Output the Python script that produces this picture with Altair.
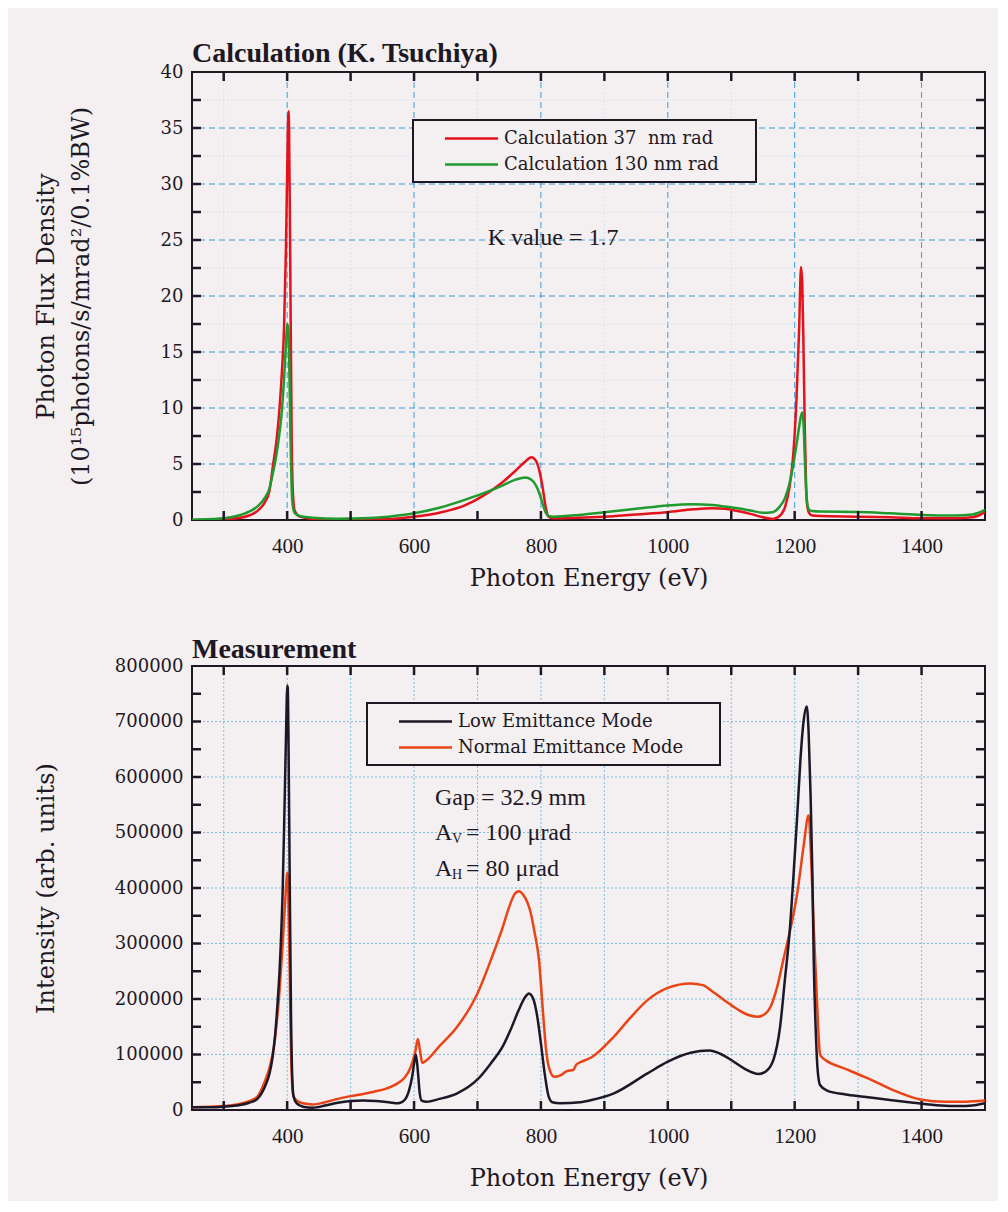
import altair as alt
import pandas as pd

# ---------------- Calculation panel data ----------------
CALC_E = [250, 280, 300, 320, 340, 355, 365, 372, 378, 383, 388, 392, 395, 398, 400, 402, 403, 405, 407, 409,
          412, 420, 440, 480, 520, 560, 600, 640, 680, 710, 740, 760, 775, 785, 792, 798, 803, 808, 812, 820,
          860, 900, 950, 1000, 1040, 1070, 1090, 1110, 1130, 1150, 1165, 1175, 1185, 1192, 1198, 1203, 1207, 1210,
          1212, 1214, 1216, 1218, 1220, 1223, 1228, 1240, 1300, 1350, 1400, 1450, 1480, 1490, 1500]
CALC_37 = [0.0, 0.0, 0.05, 0.15, 0.4, 0.9, 1.6, 2.6, 5.0, 7.0, 10.0, 13.5, 17.0, 24.0, 31.0, 36.5, 35.0, 22.0, 8.0, 2.5,
           0.8, 0.3, 0.1, 0.03, 0.05, 0.1, 0.3, 0.65, 1.3, 2.2, 3.4, 4.4, 5.2, 5.6, 5.3, 4.3, 2.8, 1.0, 0.3, 0.15,
           0.2, 0.3, 0.5, 0.7, 0.95, 1.05, 1.0, 0.8, 0.55, 0.25, 0.1, 0.3, 1.2, 3.0, 6.0, 11.0, 17.0, 22.6,
           21.0, 15.0, 8.0, 3.0, 1.2, 0.6, 0.4, 0.35, 0.3, 0.25, 0.15, 0.15, 0.25, 0.4, 0.7]
CALC_130 = [0.02, 0.08, 0.15, 0.35, 0.75, 1.3, 2.0, 2.8, 4.3, 5.8, 7.8, 10.0, 12.5, 15.5, 17.5, 17.0, 15.0, 8.0, 3.0, 1.2,
            0.6, 0.35, 0.2, 0.12, 0.15, 0.3, 0.6, 1.1, 1.8, 2.4, 3.1, 3.6, 3.8, 3.6, 3.1, 2.3, 1.4, 0.6, 0.35, 0.3,
            0.45, 0.7, 1.0, 1.3, 1.4, 1.35, 1.2, 1.05, 0.85, 0.65, 0.7, 1.1, 2.0, 3.3, 5.0, 6.8, 8.3, 9.3,
            9.6, 8.5, 5.5, 2.8, 1.4, 0.9, 0.8, 0.75, 0.72, 0.6, 0.45, 0.4, 0.5, 0.65, 0.9]
CALC_SERIES = ["Calculation 37\u00a0 nm rad", "Calculation 130 nm rad"]
CALC_COLORS = ["#e3121c", "#1f9a2f"]

# ---------------- Measurement panel data ----------------
LOW_E = [250, 280, 300, 320, 340, 353, 366, 372, 377, 381, 385, 388, 390, 393, 395, 397, 399, 400, 401, 402,
         404, 406, 408, 410, 415, 425, 440, 460, 480, 500, 520, 540, 560, 575, 585, 592, 597, 601, 603, 606,
         609, 612, 620, 640, 668, 700, 721, 740, 752, 765, 775, 781, 788, 794, 800, 806, 812, 818, 830, 862,
         880, 915, 968, 1000, 1036, 1065, 1085, 1100, 1120, 1143, 1155, 1167, 1177, 1185, 1192, 1198, 1204, 1209,
         1214, 1219, 1222, 1225, 1228, 1230, 1233, 1236, 1240, 1251, 1280, 1309, 1350, 1387, 1430, 1460, 1480, 1500]
LOW_I = [5000, 5000, 6000, 8000, 13000, 20000, 45000, 65000, 95000, 135000, 195000, 250000, 300000, 400000, 500000,
         610000, 720000, 765000, 760000, 680000, 420000, 180000, 60000, 25000, 12000, 6000, 4000, 8000, 13000, 16000,
         17000, 16000, 14000, 12000, 18000, 35000, 60000, 90000, 100000, 70000, 30000, 17000, 15000, 20000, 30000,
         55000, 84000, 115000, 144000, 180000, 203000, 210000, 200000, 170000, 120000, 65000, 25000, 14000, 12000, 14000,
         18000, 30000, 66000, 87000, 103000, 107000, 100000, 90000, 75000, 65000, 70000, 92000, 150000, 240000, 320000,
         420000, 530000, 630000, 700000, 727000, 680000, 570000, 420000, 270000, 150000, 75000, 45000, 35000, 28000,
         24000, 18000, 13000, 8000, 7000, 8000, 12000]
NORM_E = [250, 280, 300, 320, 340, 353, 366, 372, 377, 381, 385, 388, 390, 393, 395, 397, 399, 400, 401, 402,
          404, 406, 408, 410, 415, 425, 440, 460, 480, 500, 520, 537, 555, 574, 585, 595, 602, 606, 609, 613,
          618, 640, 668, 700, 721, 740, 750, 758, 765, 772, 784, 790, 797, 803, 808, 813, 821, 830, 841, 851,
          856, 862, 880, 915, 940, 968, 1000, 1036, 1055, 1072, 1090, 1109, 1125, 1141, 1152, 1162, 1172, 1182,
          1194, 1204, 1214, 1222, 1226, 1230, 1235, 1240, 1246, 1251, 1280, 1309, 1340, 1361, 1398, 1437, 1470, 1500]
NORM_I = [5000, 6000, 7000, 10000, 16000, 24000, 55000, 75000, 100000, 130000, 175000, 215000, 250000, 300000, 340000,
          380000, 415000, 427000, 420000, 380000, 250000, 110000, 45000, 25000, 17000, 12000, 10000, 14000, 20000, 25000,
          29000, 33000, 38000, 48000, 58000, 78000, 105000, 128000, 110000, 85000, 88000, 115000, 150000, 210000, 270000,
          330000, 366000, 388000, 394000, 388000, 355000, 320000, 270000, 180000, 110000, 75000, 60000, 62000, 70000,
          72000, 82000, 86000, 95000, 132000, 165000, 198000, 220000, 228000, 225000, 212000, 197000, 182000, 172000,
          168000, 172000, 186000, 220000, 270000, 330000, 390000, 475000, 531000, 450000, 330000, 200000, 100000, 92000,
          88000, 74000, 60000, 44000, 33000, 19000, 15000, 15000, 17000]
MEAS_SERIES = ["Low Emittance Mode", "Normal Emittance Mode"]
MEAS_COLORS = ["#1d1828", "#ea4416"]

# ---------------- ticks / grids / annotations ----------------
X_TICKS = [300, 400, 500, 600, 700, 800, 900, 1000, 1100, 1200, 1300, 1400]
TOP_Y_TICKS = [0, 2.5, 5, 7.5, 10, 12.5, 15, 17.5, 20, 22.5, 25, 27.5, 30, 32.5, 35, 37.5, 40]
BOT_Y_TICKS = [0, 50000, 100000, 150000, 200000, 250000, 300000, 350000, 400000, 450000, 500000,
               550000, 600000, 650000, 700000, 750000, 800000]
TOP_XGRID_MAJOR = [400, 600, 800, 1000, 1200, 1400]
TOP_XGRID_MINOR = [300, 500, 700, 900, 1100, 1300]
TOP_YGRID_MAJOR = [5, 10, 15, 20, 25, 30, 35]
TOP_YGRID_MINOR = [2.5, 7.5, 12.5, 17.5, 22.5, 27.5, 32.5, 37.5]
BOT_XGRID = [300, 400, 500, 600, 700, 800, 900, 1000, 1100, 1200, 1300, 1400]
BOT_YGRID = [100000, 200000, 300000, 400000, 500000, 600000, 700000]

K_TEXT, K_E, K_V = ["K value = 1.7"], [716], [25.2]
GAP_TEXT, GAP_E, GAP_I = ["Gap = 32.9 mm"], [633], [563000]
A_BASE = ["A", "A"]
A_SUB = ["V", "H"]
A_REST = ["= 100 \u03bcrad", "= 80 \u03bcrad"]
A_E = [633, 633]
A_I = [499000, 434000]

X_DOMAIN = [250, 1500]
TOP_Y_DOMAIN = [0, 40]
BOT_Y_DOMAIN = [0, 800000]

FG = "#1d1824"
BG = "#f4eff0"
SERIF = "DejaVu Serif"
TIMES = "Liberation Serif"
W = 793
H_TOP = 448
H_BOT = 444
TICK = 9
PAD = "\u00a0" * 5 + "\u200b"


def x_scale():
    return alt.Scale(domain=X_DOMAIN, nice=False, zero=False)


def x_axis_bottom(title_pad):
    return alt.Axis(values=X_TICKS, format="d", labelExpr="datum.value % 200 === 0 ? datum.label : ''",
                    orient="bottom", ticks=False, domain=False, grid=False,
                    labelFont=TIMES, labelFontSize=21, labelColor=FG, labelPadding=15, labelFlush=False,
                    labelOverlap=False, title="Photon Energy (eV)", titleFont=SERIF, titleFontSize=24,
                    titleFontWeight="normal", titleColor=FG, titlePadding=title_pad)


def y_axis_left(vals, step, title, extent, title_pad):
    expr = "datum.value % " + str(step) + " === 0 ? datum.label : ''"
    return alt.Axis(values=vals, format="d", labelExpr=expr,
                    orient="left", ticks=False, domain=False, grid=False,
                    labelFont=SERIF, labelFontSize=18, labelColor=FG, labelPadding=9, labelFlush=False,
                    labelOverlap=False, minExtent=extent, maxExtent=extent, title=title, titleFont=SERIF,
                    titleFontSize=24, titleFontWeight="normal", titleColor=FG, titlePadding=title_pad,
                    titleLineHeight=35)


def vrules(vals, color, dash):
    return alt.Chart(pd.DataFrame({"g": vals})).mark_rule(color=color, strokeWidth=1, strokeDash=dash).encode(
        x=alt.X("g:Q", scale=x_scale(), axis=None))


def hrules(vals, color, dash, yscale):
    return alt.Chart(pd.DataFrame({"g": vals})).mark_rule(color=color, strokeWidth=1, strokeDash=dash).encode(
        y=alt.Y("g:Q", scale=yscale, axis=None))


def tick_layers(xaxis, yaxis, yscale, ydomain, yvals, height):
    """Inward ticks on all four sides, drawn from the tick lists through the scales."""
    ylen = (ydomain[1] - ydomain[0]) * TICK / height
    xlen = (X_DOMAIN[1] - X_DOMAIN[0]) * TICK / W
    rows = []
    for t in X_TICKS:
        rows.append({"x0": t, "x1": t, "y0": ydomain[0], "y1": ydomain[0] + ylen})
        rows.append({"x0": t, "x1": t, "y0": ydomain[1] - ylen, "y1": ydomain[1]})
    for t in yvals:
        rows.append({"x0": X_DOMAIN[0], "x1": X_DOMAIN[0] + xlen, "y0": t, "y1": t})
        rows.append({"x0": X_DOMAIN[1] - xlen, "x1": X_DOMAIN[1], "y0": t, "y1": t})
    return alt.Chart(pd.DataFrame(rows)).mark_rule(strokeWidth=2.5, color=FG).encode(
        x=alt.X("x0:Q", scale=x_scale(), axis=xaxis), x2="x1:Q",
        y=alt.Y("y0:Q", scale=yscale, axis=yaxis), y2="y1:Q")


def legend(x, y):
    return alt.Legend(orient="none", legendX=x, legendY=y, title=None, strokeColor=FG, fillColor=BG,
                      padding=8, rowPadding=6, symbolType="M-3,0H3", symbolSize=312, symbolStrokeWidth=2.5,
                      symbolOffset=40, labelOffset=22, labelFont=SERIF, labelFontSize=18, labelColor=FG,
                      labelLimit=600, labelExpr="datum.label + '" + PAD + "'")


# ---------------- top panel ----------------
ys_top = alt.Scale(domain=TOP_Y_DOMAIN, nice=False, zero=True)
calc_df = pd.concat([
    pd.DataFrame({"E": CALC_E, "v": CALC_37, "series": CALC_SERIES[0]}),
    pd.DataFrame({"E": CALC_E, "v": CALC_130, "series": CALC_SERIES[1]}),
])
top_ylab = ["Photon Flux Density", "(10\u00b9\u2075photons/s/mrad\u00b2/0.1%BW)"]
top_yaxis = y_axis_left(TOP_Y_TICKS, 5, top_ylab, 40, 59)
top_xaxis = x_axis_bottom(10)

top_grid = alt.layer(
    vrules(TOP_XGRID_MINOR, "#d9e2ea", [2, 2]),
    vrules(TOP_XGRID_MAJOR, "#3d9fd6", [6, 4]),
    hrules(TOP_YGRID_MINOR, "#d9e2ea", [2, 2], ys_top),
    hrules(TOP_YGRID_MAJOR, "#3d9fd6", [6, 4], ys_top),
)
top_lines = alt.Chart(calc_df).mark_line(strokeWidth=2.5, interpolate="monotone", clip=True).encode(
    x=alt.X("E:Q", scale=x_scale(), axis=top_xaxis),
    y=alt.Y("v:Q", scale=ys_top, axis=top_yaxis),
    color=alt.Color("series:N", scale=alt.Scale(domain=CALC_SERIES, range=CALC_COLORS), legend=legend(221, 48)),
)
top_text = alt.Chart(pd.DataFrame({"E": K_E, "v": K_V, "t": K_TEXT})).mark_text(
    align="left", baseline="middle", font=TIMES, fontSize=24, color=FG).encode(
    x=alt.X("E:Q", scale=x_scale(), axis=top_xaxis),
    y=alt.Y("v:Q", scale=ys_top, axis=top_yaxis),
    text="t:N",
)
top = alt.layer(
    top_grid,
    alt.layer(top_lines, top_text,
              tick_layers(top_xaxis, top_yaxis, ys_top, TOP_Y_DOMAIN, TOP_Y_TICKS[1:-1], H_TOP)),
).resolve_scale(x="independent", y="independent").properties(
    width=W, height=H_TOP,
    title=alt.TitleParams("Calculation (K. Tsuchiya)", anchor="start", frame="group", font=TIMES, fontSize=28,
                          fontWeight="bold", color=FG, offset=-5))

# ---------------- bottom panel ----------------
ys_bot = alt.Scale(domain=BOT_Y_DOMAIN, nice=False, zero=True)
meas_df = pd.concat([
    pd.DataFrame({"E": NORM_E, "v": NORM_I, "series": MEAS_SERIES[1]}),
    pd.DataFrame({"E": LOW_E, "v": LOW_I, "series": MEAS_SERIES[0]}),
])
bot_yaxis = y_axis_left(BOT_Y_TICKS, 100000, "Intensity (arb. units)", 86, 48)
bot_xaxis = x_axis_bottom(20)

bot_grid = alt.layer(
    vrules(BOT_XGRID, "#7cbfe0", [2, 2]),
    hrules(BOT_YGRID, "#7cbfe0", [2, 2], ys_bot),
)
bot_lines = alt.Chart(meas_df).mark_line(strokeWidth=2.5, interpolate="monotone", clip=True).encode(
    x=alt.X("E:Q", scale=x_scale(), axis=bot_xaxis),
    y=alt.Y("v:Q", scale=ys_bot, axis=bot_yaxis),
    color=alt.Color("series:N", scale=alt.Scale(domain=MEAS_SERIES, range=MEAS_COLORS), legend=legend(175, 37)),
)
gap_df = pd.DataFrame({"E": GAP_E, "v": GAP_I, "t": GAP_TEXT})
a_df = pd.DataFrame({"E": A_E, "v": A_I, "base": A_BASE, "sub": A_SUB, "rest": A_REST})


def txt(df, field, size, dx=0, dy=0):
    return alt.Chart(df).mark_text(align="left", baseline="middle", font=TIMES, fontSize=size, color=FG,
                                   dx=dx, dy=dy).encode(
        x=alt.X("E:Q", scale=x_scale(), axis=bot_xaxis),
        y=alt.Y("v:Q", scale=ys_bot, axis=bot_yaxis),
        text=field + ":N",
    )


bot = alt.layer(
    bot_grid,
    alt.layer(bot_lines, txt(gap_df, "t", 24), txt(a_df, "base", 24), txt(a_df, "sub", 14, dx=17, dy=6),
              txt(a_df, "rest", 24, dx=31),
              tick_layers(bot_xaxis, bot_yaxis, ys_bot, BOT_Y_DOMAIN, BOT_Y_TICKS[1:-1], H_BOT)),
).resolve_scale(x="independent", y="independent").properties(
    width=W, height=H_BOT,
    title=alt.TitleParams("Measurement", anchor="start", frame="group", font=TIMES, fontSize=28,
                          fontWeight="bold", color=FG, offset=-7))

chart = alt.vconcat(top, bot, spacing=44).resolve_scale(color="independent").properties(
    background=BG, padding={"left": 25, "top": 31, "right": 10, "bottom": 10}
).configure_view(stroke=FG, strokeWidth=2).configure_legend(strokeWidth=2)

chart.save("out.html", embed_options={"renderer": "svg", "actions": False})
